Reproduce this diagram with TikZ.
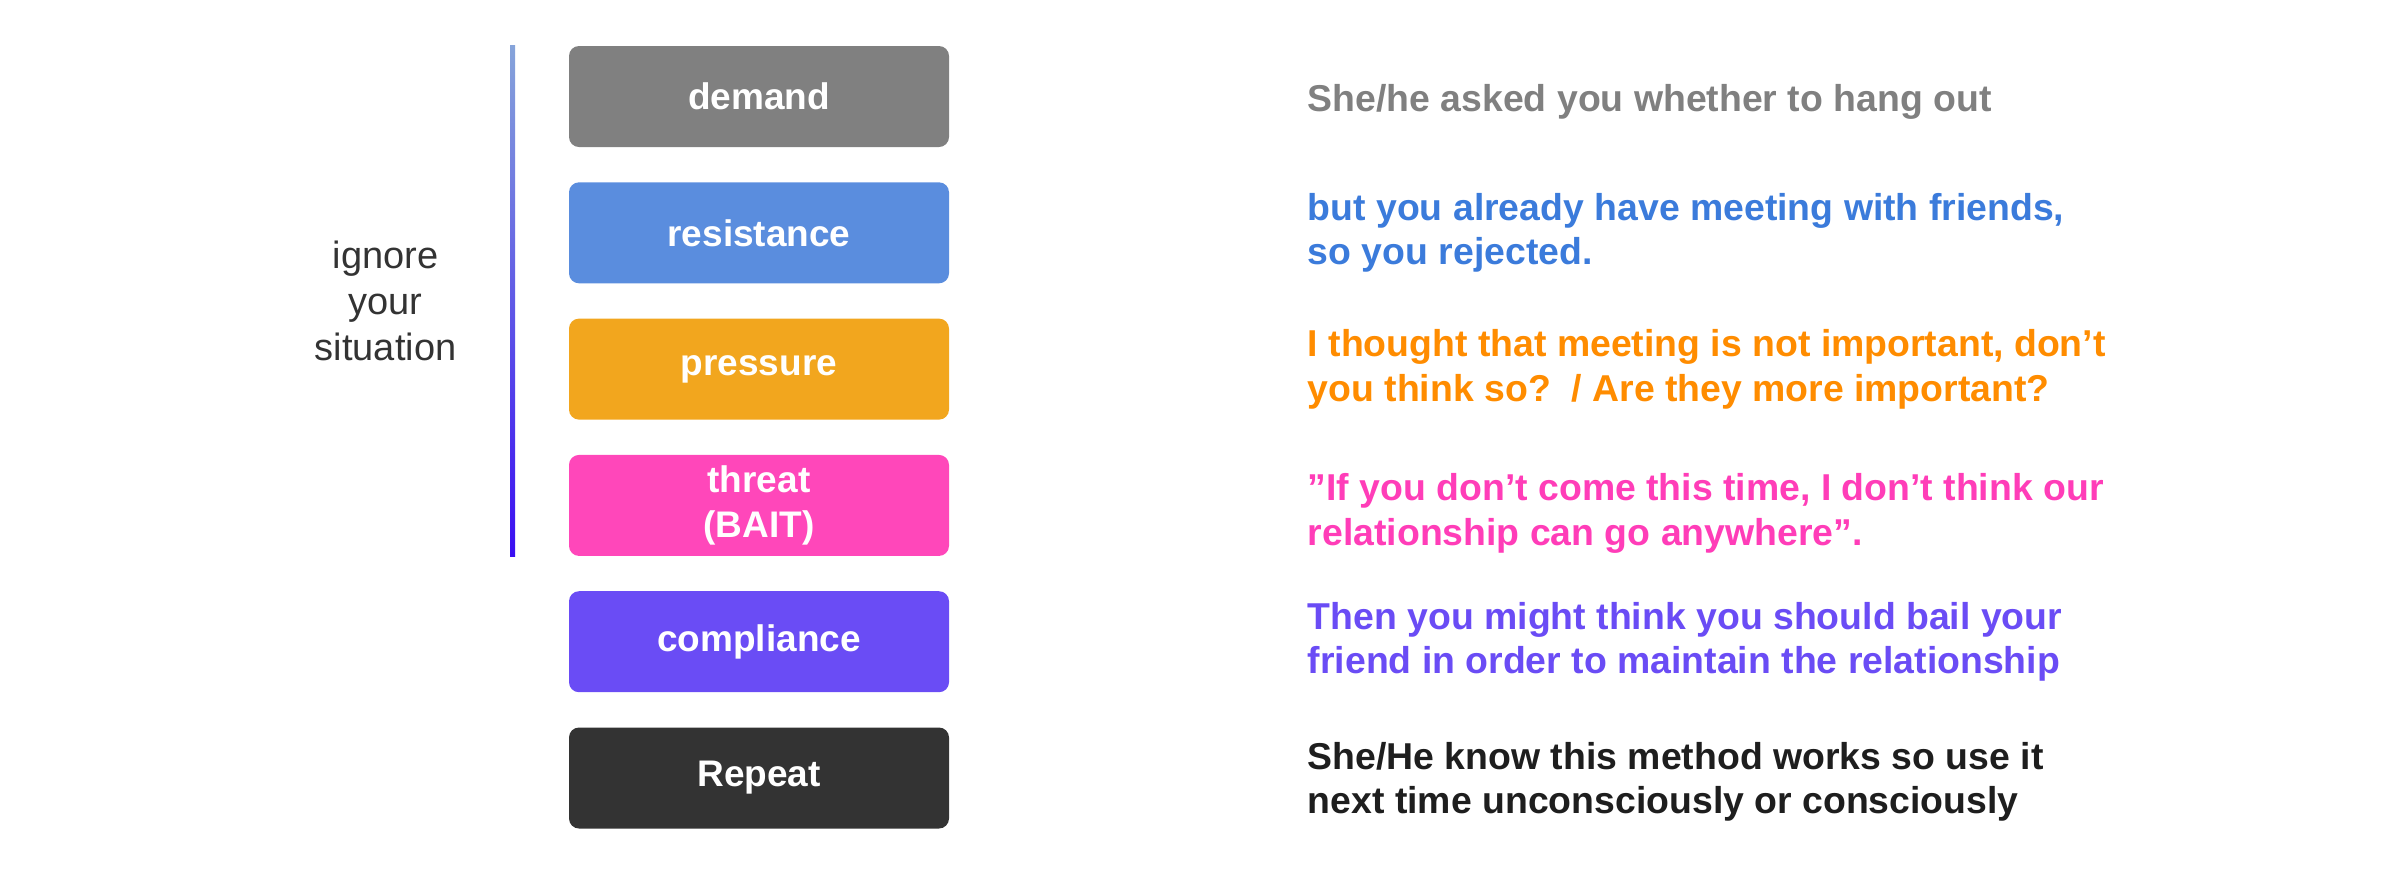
\documentclass[tikz,border=0pt]{standalone}
\usepackage{fontspec}
\setmainfont{Liberation Sans}
\usepackage{tikz}
\usetikzlibrary{positioning,calc}
\definecolor{demandgray}{HTML}{808080}
\definecolor{resistbox}{HTML}{5A8DDE}
\definecolor{resisttext}{HTML}{3B7BDB}
\definecolor{pressbox}{HTML}{F2A61E}
\definecolor{presstext}{HTML}{FF8C00}
\definecolor{threatbox}{HTML}{FF47BA}
\definecolor{threattext}{HTML}{FF3DB8}
\definecolor{complpurple}{HTML}{6A4CF5}
\definecolor{repeatbox}{HTML}{333333}
\definecolor{repeattext}{HTML}{1E1E1E}
\definecolor{bartop}{HTML}{86A4DA}
\definecolor{barbottom}{HTML}{3A0EF2}

\begin{document}
\begin{tikzpicture}[
  x=0.5pt, y=-0.5pt,
  node distance=17.25pt and 179pt,
  stage/.style={rounded corners=5pt, minimum width=190pt, minimum height=50.5pt, inner sep=0pt, align=center, text=white, font=\fontsize{18.5}{22.25}\selectfont\bfseries},
  desc/.style={inner sep=0pt, align=left, font=\fontsize{18.7}{22.25}\selectfont\bfseries},
  side/.style={inner sep=0pt, align=center, text=repeatbox, font=\fontsize{19}{23}\selectfont}
]
\useasboundingbox (0,0) rectangle (2403,880);

\node[stage, fill=demandgray] (demand) at (759,96.5) {demand};
\node[stage, fill=resistbox, below=of demand] (resist) {resistance};
\node[stage, fill=pressbox, below=of resist] (press) {pressure};
\node[stage, fill=threatbox, below=of press] (threat) {threat\\(BAIT)};
\node[stage, fill=complpurple, below=of threat] (comply) {compliance};
\node[stage, fill=repeatbox, below=of comply] (repeat) {Repeat};

\node[desc, text=demandgray, right=of demand, yshift=-2.5pt] (demandtxt) {She/he asked you whether to hang out};
\node[desc, text=resisttext, right=of resist] (resisttxt) {but you already have meeting with friends,\\so you rejected.};
\node[desc, text=presstext, right=of press] (presstxt) {I thought that meeting is not important, don’t\\you think so?\ \ / Are they more important?};
\node[desc, text=threattext, right=of threat, yshift=-4pt] (threattxt) {”If you don’t come this time, I don’t think our\\relationship can go anywhere”.};
\node[desc, text=complpurple, right=of comply] (complytxt) {Then you might think you should bail your\\friend in order to maintain the relationship};
\node[desc, text=repeattext, right=of repeat, yshift=-2pt] (repeattxt) {She/He know this method works so use it\\next time unconsciously or consciously};

\shade[top color=bartop, bottom color=barbottom] ($(demand.north west)+(-58.5,0)$) rectangle ($(threat.south west)+(-53.5,0)$);
\node[side] (ignore) at ($(demand.north west)!0.5!(threat.south west)+(-183,0)$) {ignore\\your\\situation};
\end{tikzpicture}
\end{document}
